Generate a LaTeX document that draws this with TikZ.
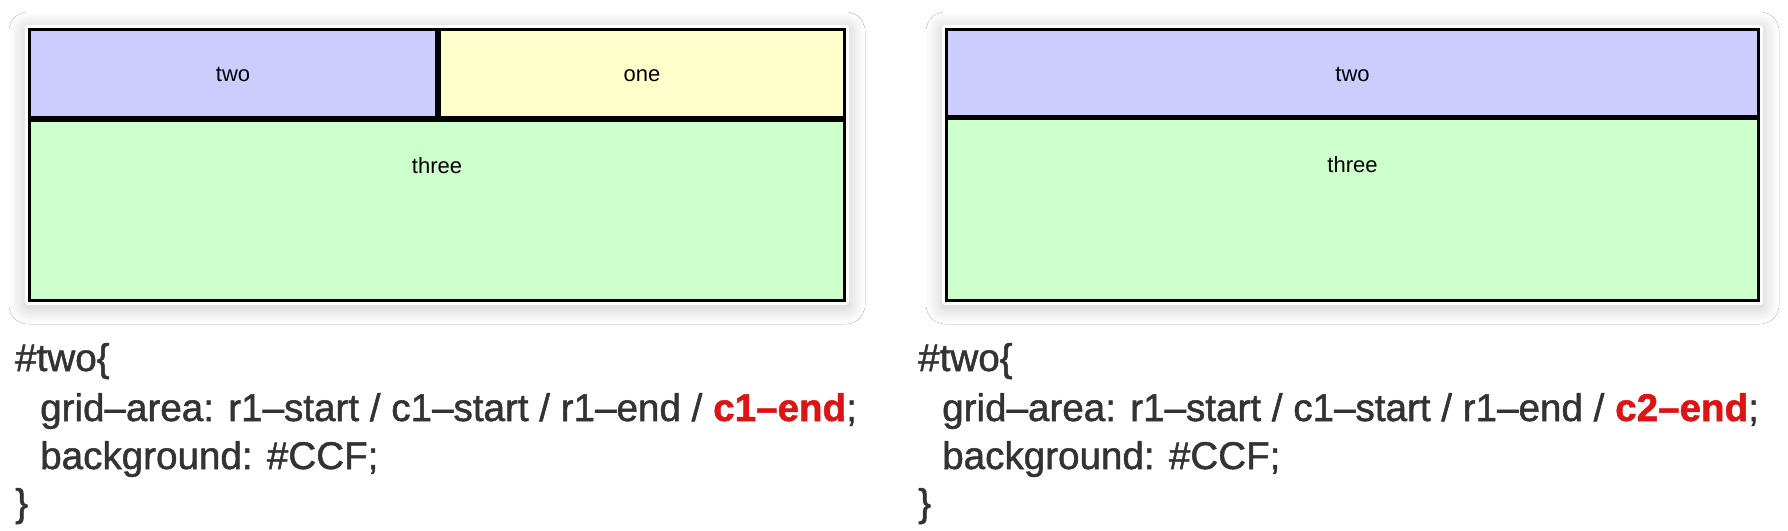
\documentclass[tikz,border=0pt]{standalone}
\usepackage{fontspec}
\setmainfont{Liberation Sans}
\newfontfamily\codefont[FakeBold=1.3]{Liberation Sans}
\usetikzlibrary{shadows.blur}
\definecolor{cellblue}{HTML}{CCCCFF}
\definecolor{cellyellow}{HTML}{FFFFCC}
\definecolor{cellgreen}{HTML}{CCFFCC}
\definecolor{codegray}{HTML}{333333}
\definecolor{codered}{HTML}{DD1414}
\begin{document}
\begin{tikzpicture}[x=1pt,y=-1pt,
  card/.style={fill=white, draw=none, rounded corners=3pt,
    blur shadow={shadow xshift=0pt, shadow yshift=-3pt, shadow blur radius=16pt, shadow blur steps=14, shadow opacity=22}},
  outline/.style={draw=black, line width=3pt},
  divider/.style={draw=black, line width=5.5pt},
  celllabel/.style={font=\fontsize{22}{26}\selectfont, text=black, anchor=base, inner sep=0pt},
  codeline/.style={font=\codefont\fontsize{38.6}{46}\selectfont, text=codegray, anchor=base west, inner sep=0pt}]
\useasboundingbox (0,0) rectangle (1788,530);
\fill[white] (0,0) rectangle (1788,530);

% ---------- left panel ----------
\path[card] (25,25) rectangle (849,305);
\fill[cellblue] (28,28) rectangle (438,119);
\fill[cellyellow] (438,28) rectangle (846,119);
\fill[cellgreen] (28,119) rectangle (846,302);
\draw[divider] (28,119) -- (846,119);
\draw[divider] (438,28) -- (438,119);
\draw[outline] (29.5,29.5) rectangle (844.5,300.5);
\node[celllabel] (ltwo) at (233,81) {two};
\node[celllabel] (lone) at (642,81) {one};
\node[celllabel] (lthree) at (437,173) {three};

% ---------- right panel ----------
\path[card] (942,25) rectangle (1763,305);
\fill[cellblue] (945,28) rectangle (1760,117.5);
\fill[cellgreen] (945,117.5) rectangle (1760,302);
\draw[divider] (945,117.5) -- (1760,117.5);
\draw[outline] (946.5,29.5) rectangle (1758.5,300.5);
\node[celllabel] (rtwo) at (1352.5,81) {two};
\node[celllabel] (rthree) at (1352.5,172) {three};

% ---------- left code ----------
\node[codeline] (lc1) at (15,371) {\#two\{};
\node[codeline] (lc2) at (40,421) {grid–area: r1–start / c1–start / r1–end / \textcolor{codered}{\bfseries c1–end};};
\node[codeline] (lc3) at (40,469) {background: \#CCF;};
\node[codeline] (lc4) at (15,516) {\}};

% ---------- right code ----------
\node[codeline] (rc1) at (918,371) {\#two\{};
\node[codeline] (rc2) at (942,421) {grid–area: r1–start / c1–start / r1–end / \textcolor{codered}{\bfseries c2–end};};
\node[codeline] (rc3) at (942,469) {background: \#CCF;};
\node[codeline] (rc4) at (918,516) {\}};
\end{tikzpicture}
\end{document}
